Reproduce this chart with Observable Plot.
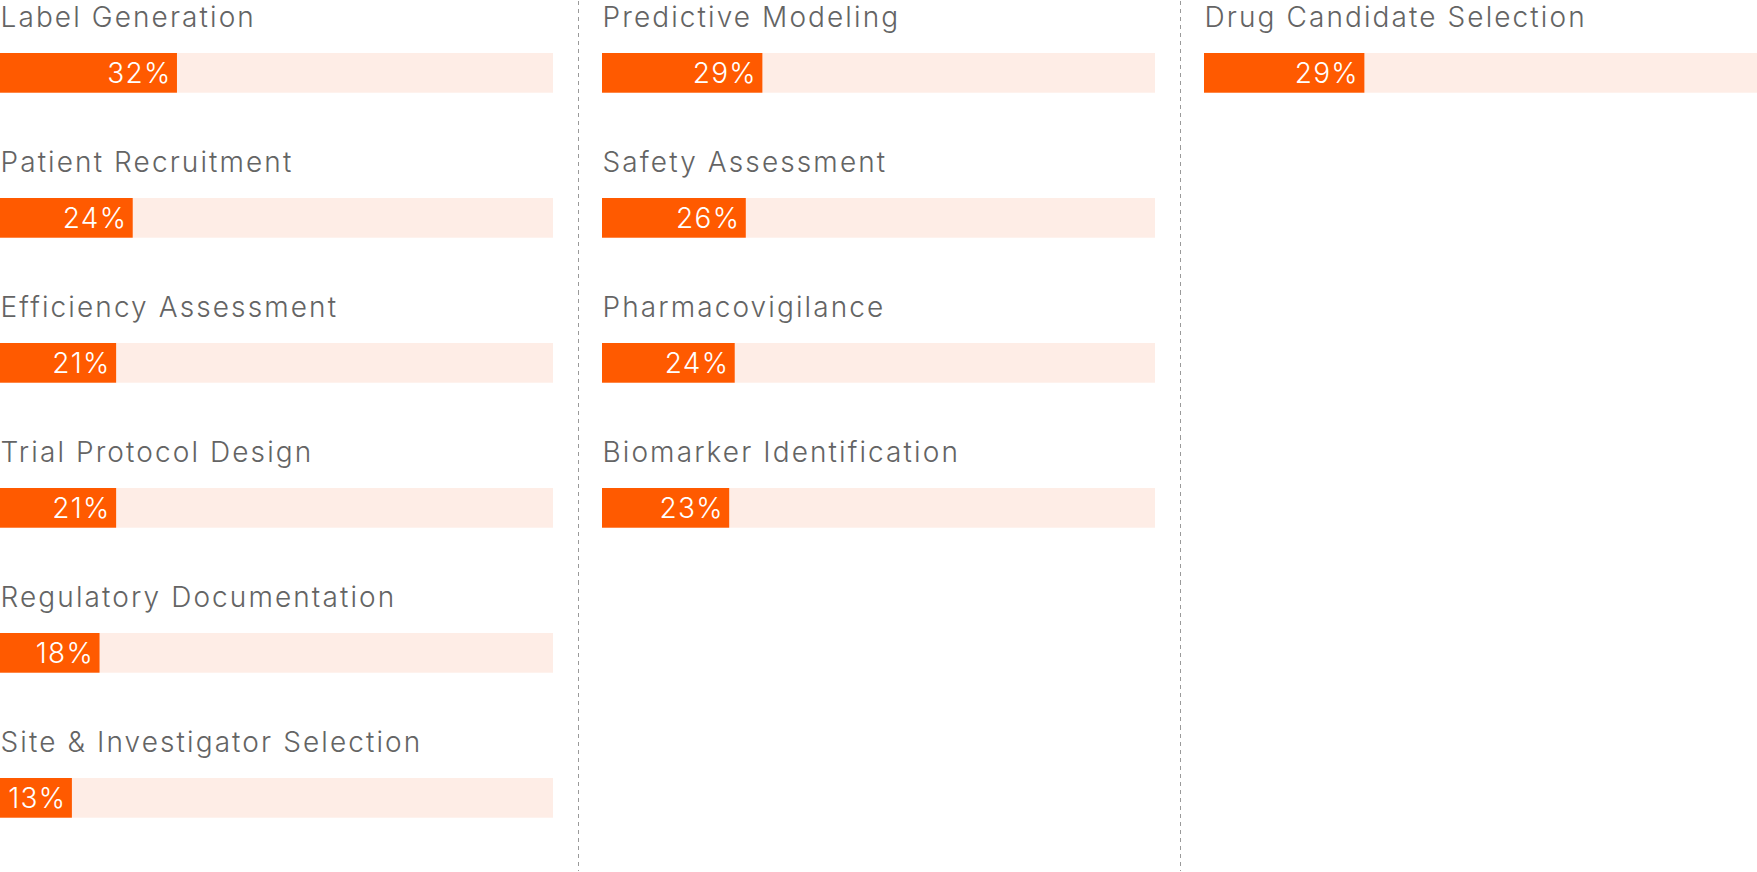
<!DOCTYPE html>
<html>
<head>
<meta charset="utf-8">
<script src="https://cdn.jsdelivr.net/npm/d3@7"></script>
<script src="https://cdn.jsdelivr.net/npm/@observablehq/plot@0.6"></script>
<style>
  html, body { margin: 0; padding: 0; background: #ffffff; }
  #chart svg { display: block; }
</style>
</head>
<body>
<div id="chart"></div>
<script>
// ---- data ----
const categories = [
  "Label Generation",
  "Patient Recruitment",
  "Efficiency Assessment",
  "Trial Protocol Design",
  "Regulatory Documentation",
  "Site & Investigator Selection",
  "Predictive Modeling",
  "Safety Assessment",
  "Pharmacovigilance",
  "Biomarker Identification",
  "Drug Candidate Selection"
];
const values = [32, 24, 21, 21, 18, 13, 29, 26, 24, 23, 29];
const panel  = [0, 0, 0, 0, 0, 0, 1, 1, 1, 1, 2];
const slot   = [0, 1, 2, 3, 4, 5, 0, 1, 2, 3, 0];
const total = 100;
const panels = [0, 1, 2];
const slots = [0, 1, 2, 3, 4, 5];

const rows = categories.map((name, i) => ({
  name, value: values[i], col: panel[i], row: slot[i]
}));
// divider cells between panels
const dividers = d3.cross(panels.slice(0, -1), slots).map(([col, row]) => ({col, row}));

const W = 1757, H = 872;
const orange = "#ff5a00";
const pale = "#feede6";

const chart = Plot.plot({
  width: W,
  height: H,
  margin: 0,
  style: { fontFamily: "Inter, 'Noto Sans', sans-serif", background: "#ffffff" },
  x: { domain: [0, total], axis: null },
  fx: { domain: panels, paddingInner: 0.0814, paddingOuter: 0, axis: null },
  fy: { domain: slots, padding: 0, axis: null },
  marks: [
    Plot.ruleX(dividers, {
      fx: "col", fy: "row", x: () => total, dx: 25,
      stroke: "#9a9a9a", strokeWidth: 1, strokeDasharray: "4,4"
    }),
    Plot.barX(rows, {
      fx: "col", fy: "row", x1: 0, x2: () => total,
      fill: pale, insetTop: 52, insetBottom: 53.3
    }),
    Plot.barX(rows, {
      fx: "col", fy: "row", x1: 0, x2: "value",
      fill: orange, insetTop: 52, insetBottom: 53.3
    }),
    Plot.text(rows, {
      fx: "col", fy: "row", frameAnchor: "top-left", text: "name",
      textAnchor: "start", lineAnchor: "middle", dy: 17,
      fontSize: 28, fontWeight: 300, fill: "#646464"
    }),
    Plot.text(rows, {
      fx: "col", fy: "row", x: "value", text: d => d.value + "%",
      textAnchor: "end", dx: -6, dy: 0, fontSize: 28, fontWeight: 300, fill: "#ffffff"
    })
  ]
});

// letter spacing for the two text layers (labels first, values second)
const textLayers = d3.select(chart).selectAll('g[aria-label="text"]').nodes();
if (textLayers[0]) d3.select(textLayers[0]).selectAll("text").style("letter-spacing", "2.1px");
if (textLayers[1]) d3.select(textLayers[1]).selectAll("text").style("letter-spacing", "1.3px");

document.getElementById("chart").appendChild(chart);
</script>
</body>
</html>
